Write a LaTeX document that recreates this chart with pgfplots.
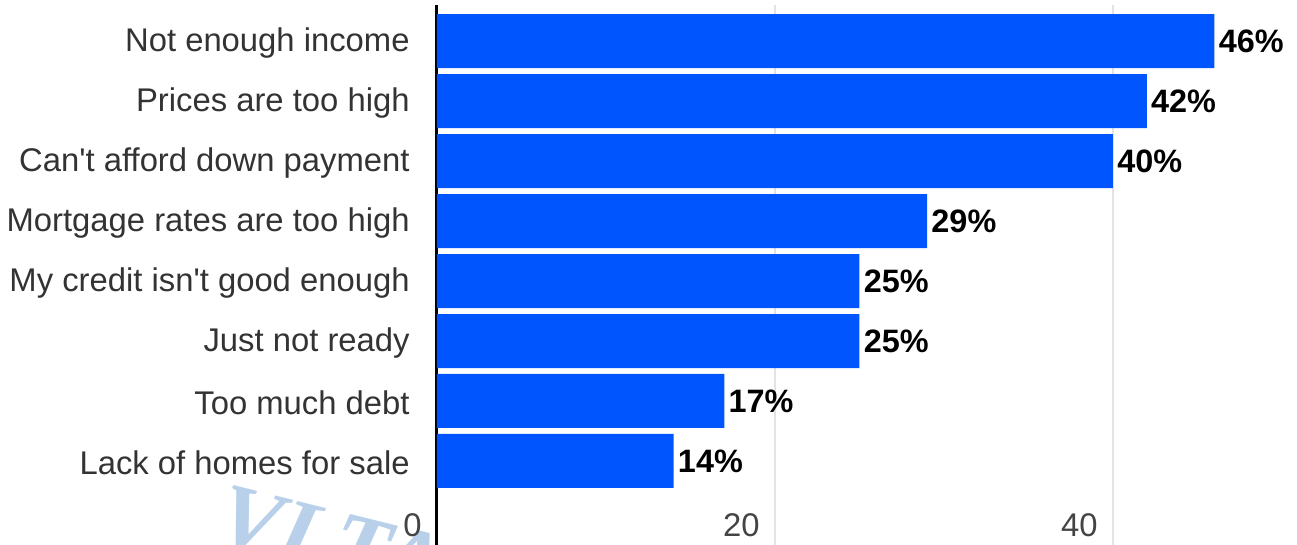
\documentclass[border=0pt]{standalone}
\usepackage{pgfplots}
\pgfplotsset{compat=1.18}
\usepackage{fontspec}
\setmainfont{Liberation Sans}
\newfontfamily\wmfont{Liberation Serif}
\definecolor{barblue}{RGB}{0,85,255}
\definecolor{labgray}{RGB}{51,51,51}
\definecolor{tickgray}{RGB}{68,68,68}
\definecolor{wmblue}{RGB}{184,208,234}
\begin{document}
\begin{tikzpicture}[x=1pt,y=1pt]
\useasboundingbox (0,0) rectangle (648.5,272.5);
% watermark
\node[anchor=north west, inner sep=0pt, rotate=-14, text=wmblue,
      font=\wmfont\bfseries\itshape\fontsize{46}{46}\selectfont]
  at (114,31) {VLTA};
\begin{axis}[
  at={(218.5pt,0pt)}, anchor=south west,
  scale only axis, width=430pt, height=270pt,
  xbar, bar width=27pt,
  xmin=0, xmax=50.89, ymin=-1.4, ymax=7.6,
  enlargelimits=false,
  axis line style={draw=none},
  major tick length=0pt,
  xtick={20,40},
  extra x ticks={0},
  extra x tick style={grid style={black, line width=1.5pt}},
  xmajorgrids,
  grid style={gray!22, line width=0.8pt},
  ytick={0,1,2,3,4,5,6,7},
  yticklabels={Lack of homes for sale, Too much debt, Just not ready, My credit isn\textquotesingle t good enough, Mortgage rates are too high, Can\textquotesingle t afford down payment, Prices are too high, Not enough income},
  yticklabel style={anchor=east, inner sep=0pt, xshift=-13.5pt, yshift=-1pt, text=labgray, font=\fontsize{16.4}{19}\selectfont},
  xticklabel style={anchor=south east, inner sep=0pt, yshift=4pt, xshift=-7.5pt, text=tickgray, font=\fontsize{16.4}{19}\selectfont},
  /pgf/number format/assume math mode=true,
  nodes near coords={\pgfmathprintnumber{\pgfplotspointmeta}\%},
  nodes near coords style={anchor=west, inner sep=0pt, xshift=2pt, text=black, font=\bfseries\fontsize{16.2}{19}\selectfont},
  clip=false,
]
\addplot[fill=barblue, draw=none] coordinates {
  (14,0) (17,1) (25,2) (25,3) (29,4) (40,5) (42,6) (46,7)
};
\end{axis}
\end{tikzpicture}
\end{document}
